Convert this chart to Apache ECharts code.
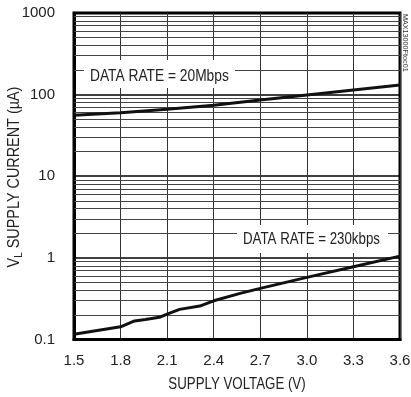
<!DOCTYPE html>
<html><head><meta charset="utf-8">
<script src="https://cdn.jsdelivr.net/npm/echarts@6/dist/echarts.min.js"></script>
<style>html,body{margin:0;padding:0;background:#fff}#c{width:411px;height:397px}</style>
</head><body><div id="c"></div>
<script>
var FONT = "'Liberation Sans',Arial,sans-serif";
var xTicks = ['1.5','1.8','2.1','2.4','2.7','3.0','3.3','3.6'];
var yTicks = ['0.1','1','10','100','1000'];
var voltage20M = [1.5, 1.8, 2.1, 2.4, 2.7, 3.0, 3.3, 3.6];
var current20M = [56, 60, 66, 74, 86, 99, 114, 131];
var voltage230k = [1.5, 1.8, 1.89, 1.96, 2.05, 2.1, 2.18, 2.31, 2.4, 2.57, 2.7, 3.0, 3.3, 3.6];
var current230k = [0.116, 0.143, 0.169, 0.176, 0.187, 0.205, 0.234, 0.257, 0.298, 0.367, 0.423, 0.577, 0.778, 1.05];
var label20M = 'DATA RATE = 20Mbps';
var label230k = 'DATA RATE = 230kbps';
var xTitle = 'SUPPLY VOLTAGE (V)';
var yTitle = '{v|V}{s|L}{v| SUPPLY CURRENT (µA)}';

var minorVals = [];
[0.1, 1, 10, 100].forEach(function(d){ for (var m = 2; m <= 9; m++) minorVals.push(+(d*m).toPrecision(3)); });

function pairs(xs, ys){ return xs.map(function(x,i){ return [x, ys[i]]; }); }

var chart = echarts.init(document.getElementById('c'));
chart.setOption({
  animation: false,
  grid: {left: 74, right: 11, top: 13, bottom: 57.5, containLabel: false, outerBoundsMode: 'none',
         show: true, borderColor: '#000', borderWidth: 3},
  xAxis: {
    type: 'value', min: 1.5, max: 3.6, interval: 0.3,
    axisLine: {show: true, lineStyle: {color: '#000', width: 3}},
    axisTick: {show: false},
    axisLabel: {fontFamily: FONT, fontSize: 15, color: '#222', margin: 14,
      formatter: function(v){ var s = v.toFixed(1); return xTicks.indexOf(s) >= 0 ? s : ''; }},
    splitLine: {show: true, lineStyle: {color: '#333', width: 1}}
  },
  yAxis: {
    type: 'log', logBase: 10, min: 0.1, max: 1000,
    axisLine: {show: true, lineStyle: {color: '#000', width: 3}},
    axisTick: {show: false},
    axisLabel: {fontFamily: FONT, fontSize: 15, color: '#222', margin: 19,
      formatter: function(v){ var s = String(+v.toPrecision(3)); return yTicks.indexOf(s) >= 0 ? s : ''; }},
    splitLine: {show: true, lineStyle: {color: '#000', width: 1.5}}
  },
  series: [
    {type: 'line', name: '20Mbps', data: pairs(voltage20M, current20M), symbol: 'none',
     lineStyle: {color: '#111', width: 3}, z: 5,
     markLine: {silent: true, symbol: 'none', label: {show: false}, animation: false,
       lineStyle: {color: '#444', width: 1, type: 'solid'},
       data: minorVals.map(function(v){ return {yAxis: v}; })}},
    {type: 'line', name: '230kbps', data: pairs(voltage230k, current230k), symbol: 'none',
     lineStyle: {color: '#111', width: 3}, z: 5}
  ],
  graphic: [
    {type: 'rect', shape: {x: 84, y: 60, width: 151, height: 28}, style: {fill: '#fff'}, z: 10},
    {type: 'text', x: 90, y: 77, scaleX: 0.86, z: 11, style: {text: label20M, font: '16px ' + FONT, fill: '#222', verticalAlign: 'middle'}},
    {type: 'rect', shape: {x: 237, y: 225, width: 151, height: 28}, style: {fill: '#fff'}, z: 10},
    {type: 'text', x: 243, y: 240, scaleX: 0.83, z: 11, style: {text: label230k, font: '16px ' + FONT, fill: '#222', verticalAlign: 'middle'}},
    {type: 'text', x: 237, y: 385, scaleX: 0.83, z: 11, style: {text: xTitle, font: '16px ' + FONT, fill: '#222', align: 'center', verticalAlign: 'middle'}},
    {type: 'text', x: 15, y: 177, rotation: Math.PI/2, scaleX: 0.9, z: 11,
     style: {text: yTitle, align: 'center', verticalAlign: 'middle',
       rich: {v: {fontFamily: FONT, fontSize: 16, fill: '#222', lineHeight: 18},
              s: {fontFamily: FONT, fontSize: 11, fill: '#222', lineHeight: 10, verticalAlign: 'bottom'}}}},
    {type: 'text', x: 409, y: 14, rotation: -Math.PI/2, scaleX: 0.9, z: 11,
     style: {text: 'MAX13000Ftoc01', font: '8px ' + FONT, fill: '#333', verticalAlign: 'top'}}
  ]
});
</script></body></html>
